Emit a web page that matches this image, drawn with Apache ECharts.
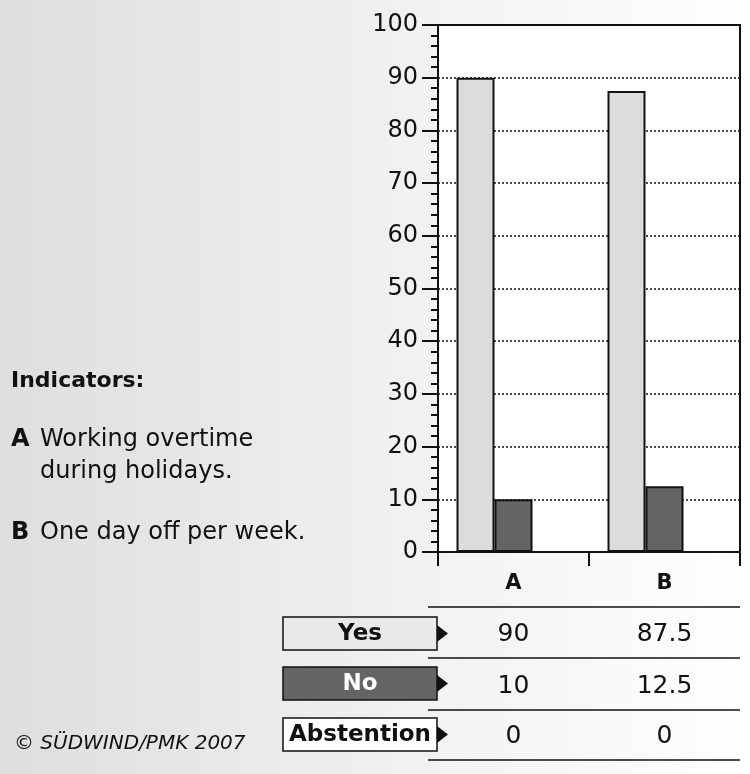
<!DOCTYPE html>
<html>
<head>
<meta charset="utf-8">
<script src="https://cdn.jsdelivr.net/npm/echarts@6/dist/echarts.min.js"></script>
<style>
  html, body { margin: 0; padding: 0; }
  #chart { width: 750px; height: 774px; }
</style>
</head>
<body>
<div id="chart"></div>
<script>
  // 数据
  var categories = ['A', 'B'];
  var seriesNames = ['Yes', 'No', 'Abstention'];
  var yesValues = [90, 87.5];
  var noValues = [10, 12.5];
  var abstentionValues = [0, 0];
  var yMin = 0, yMax = 100, yInterval = 10;

  var fontMain = '"DejaVu Sans", sans-serif';
  var colors = {Yes: '#dcdcdc', No: '#646464', Abstention: '#ffffff'};
  var boxColors = {Yes: '#e9e9e9', No: '#646464', Abstention: '#ffffff'};
  var boxText = {Yes: '#111', No: '#fff', Abstention: '#111'};

  var myChart = echarts.init(document.getElementById('chart'));

  function barSeries(name, values) {
    return {
      name: name,
      type: 'bar',
      data: values,
      barWidth: 38,
      barGap: '0%',
      itemStyle: {color: colors[name], borderColor: '#111', borderWidth: 2},
      z: 3
    };
  }

  var option = {
    animation: false,
    backgroundColor: {
      type: 'linear', x: 0, y: 0, x2: 1, y2: 0,
      colorStops: [{offset: 0, color: '#dedede'}, {offset: 0.6, color: '#f3f3f3'}, {offset: 1, color: '#ffffff'}]
    },
    grid: {
      left: 438, right: 10, top: 25, bottom: 222,
      show: true, backgroundColor: '#fff', borderColor: '#111', borderWidth: 2
    },
    xAxis: {
      type: 'category',
      data: categories,
      axisLine: {lineStyle: {color: '#111', width: 2}},
      axisTick: {show: true, length: 14, lineStyle: {color: '#111', width: 2}},
      axisLabel: {fontFamily: fontMain, fontWeight: 'bold', fontSize: 21, color: '#111', margin: 21}
    },
    yAxis: {
      type: 'value',
      min: yMin, max: yMax, interval: yInterval,
      axisLine: {show: true, lineStyle: {color: '#111', width: 2}},
      axisTick: {show: true, length: 16, lineStyle: {color: '#111', width: 2}},
      minorTick: {show: true, splitNumber: 5, length: 7, lineStyle: {color: '#111', width: 2}},
      splitLine: {show: true, lineStyle: {color: '#111', type: [2, 2], width: 1.5}},
      axisLabel: {fontFamily: fontMain, fontSize: 24, color: '#111', margin: 20}
    },
    series: [
      barSeries('Yes', yesValues),
      barSeries('No', noValues),
      barSeries('Abstention', abstentionValues)
    ]
  };
  myChart.setOption(option);

  function txt(x, y, text, font, align) {
    return {type: 'text', x: x, y: y, style: {text: text, font: font + ' ' + fontMain, fill: '#111',
      align: align || 'left', verticalAlign: 'middle'}};
  }

  // 左侧说明文字
  var graphics = [
    txt(11, 381, 'Indicators:', 'bold 22px'),
    txt(11, 440, 'A', 'bold 24px'),
    txt(40, 440, 'Working overtime', '24px'),
    txt(40, 472, 'during holidays.', '24px'),
    txt(11, 533, 'B', 'bold 24px'),
    txt(40, 533, 'One day off per week.', '24px'),
    txt(14, 744, '\u00A9 S\u00DCDWIND/PMK 2007', 'italic 20px')
  ];

  // 表格线
  var lineYs = [607, 658, 710, 760];
  lineYs.forEach(function (y) {
    graphics.push({type: 'line', shape: {x1: 428, y1: y, x2: 740, y2: y}, style: {stroke: '#111', lineWidth: 1.5}});
  });

  // 表格行
  var rowValues = [yesValues, noValues, abstentionValues];
  var rowCenters = [634, 686, 736];
  var boxTops = [617, 667, 718];
  seriesNames.forEach(function (name, i) {
    var top = boxTops[i];
    graphics.push({type: 'rect', shape: {x: 283, y: top, width: 154, height: 33},
      style: {fill: boxColors[name], stroke: '#111', lineWidth: 1.5}});
    graphics.push({type: 'polygon', shape: {points: [[437, top + 8], [448, top + 16.5], [437, top + 25]]},
      style: {fill: '#111'}});
    var label = txt(360, top + 17, name, 'bold 23px', 'center');
    label.style.fill = boxText[name];
    graphics.push(label);
    categories.forEach(function (c, j) {
      var px = myChart.convertToPixel({xAxisIndex: 0}, c);
      graphics.push(txt(px, rowCenters[i], String(rowValues[i][j]), '25px', 'center'));
    });
  });

  myChart.setOption({graphic: graphics});
</script>
</body>
</html>
